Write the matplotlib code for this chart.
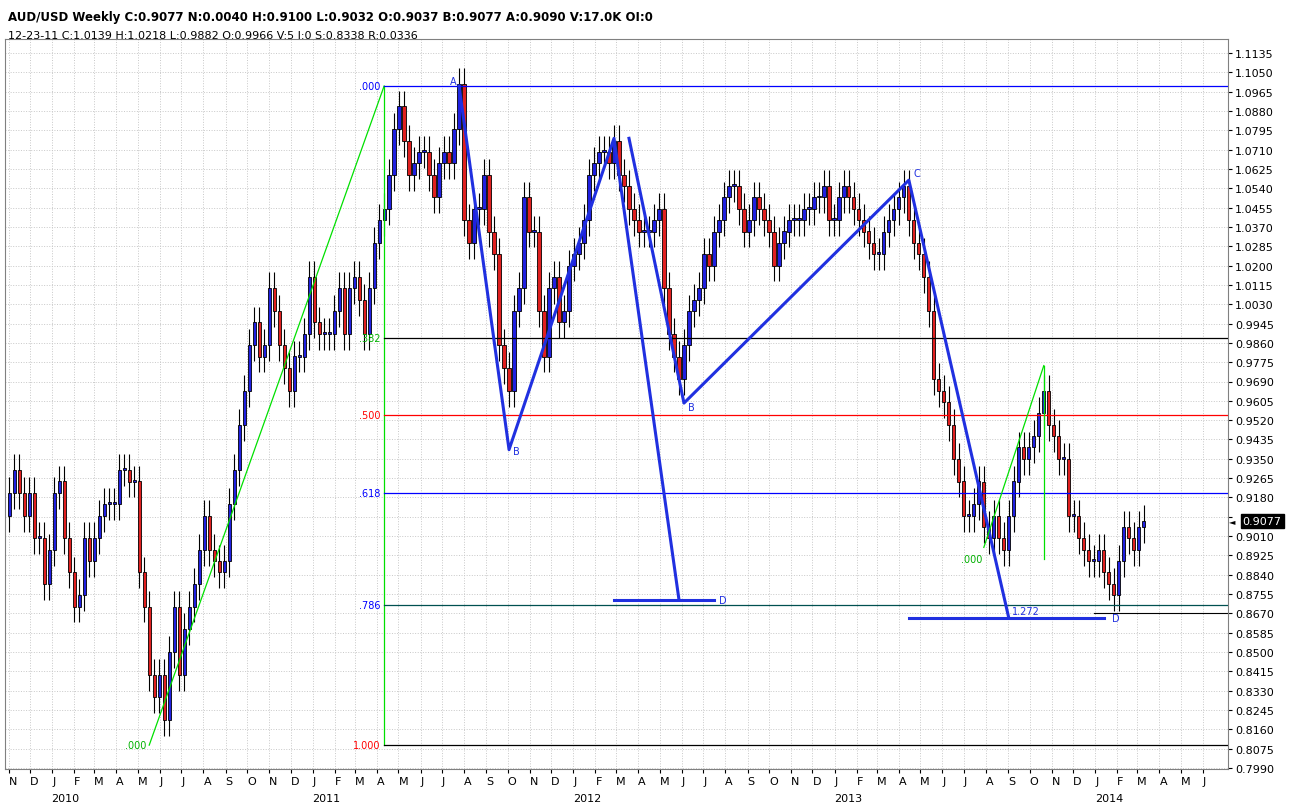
import matplotlib
matplotlib.use("Agg")
import matplotlib.pyplot as plt
import matplotlib.dates as mdates
import pandas as pd
import numpy as np

# weekly closes Nov 2009 .. Mar 2014
closes = [
 0.92,0.93,0.92,0.91,0.92, 0.90,0.90,0.88,0.895,
 0.92,0.925,0.90,0.885, 0.87,0.875,0.90,0.89, 0.90,0.91,0.915,0.915,0.915, 0.93,0.93,0.925,0.925,
 0.885,0.87,0.84,0.83,0.84, 0.82,0.85,0.87,0.84, 0.86,0.87,0.88,0.895, 0.91,0.895,0.89,0.885,0.89,
 0.915,0.93,0.95,0.965, 0.985,0.995,0.98,0.985, 1.01,1.00,0.985,0.975,0.965, 0.98,0.98,0.99,1.015,
 0.995,0.99,0.99,0.99,1.00, 1.01,0.99,1.01,1.015, 1.005,0.99,1.01,1.03, 1.04,1.045,1.06,1.08,
 1.09,1.075,1.06,1.065,1.07, 1.07,1.06,1.05,1.065, 1.07,1.065,1.08,1.10, 1.04,1.03,1.045,1.045,1.06,
 1.035,1.025,0.985,0.975, 0.965,1.00,1.01,1.05,1.035, 1.035,1.00,0.98,1.01, 1.015,0.995,1.00,1.02,
 1.025,1.03,1.04,1.06,1.065, 1.07,1.07,1.065,1.075, 1.06,1.055,1.045,1.04, 1.035,1.035,1.035,1.04,1.045,
 1.01,0.99,0.98,0.97, 0.985,1.00,1.005,1.01, 1.025,1.02,1.035,1.04,1.05, 1.055,1.055,1.045,1.035,
 1.04,1.05,1.045,1.04, 1.035,1.02,1.03,1.035,1.04, 1.04,1.04,1.045,1.045, 1.05,1.05,1.055,1.04,1.04,
 1.05,1.055,1.05,1.045, 1.04,1.035,1.03,1.025, 1.025,1.035,1.04,1.045, 1.05,1.055,1.04,1.03,1.025,
 1.015,1.00,0.97,0.965, 0.96,0.95,0.935,0.925, 0.91,0.91,0.915,0.925,0.905, 0.90,0.91,0.90,0.895,
 0.91,0.925,0.94,0.935,0.94, 0.945,0.955,0.965,0.95, 0.945,0.935,0.935,0.91, 0.91,0.90,0.895,0.89,0.89,
 0.895,0.885,0.88,0.875, 0.89,0.905,0.90,0.895, 0.905,0.9077]
first_open = 0.91
wick = 0.007

dates = pd.date_range("2009-11-02", periods=len(closes), freq="7D")
opens = [first_open] + closes[:-1]

fib_levels = [1.0990, 0.9881, 0.9542, 0.9199, 0.8706, 0.8090]
fib_labels = [".000", ".382", ".500", ".618", ".786", "1.000"]
fib_label_colors = ["blue", "#00b000", "red", "blue", "blue", "red"]
fib_line_colors = ["blue", "black", "red", "blue", "#005050", "black"]

pat1 = [("2011-07-25", 1.0990), ("2011-10-03", 0.9390), ("2012-02-27", 1.0760), ("2012-05-28", 0.8730)]
pat2 = [("2012-03-19", 1.0760), ("2012-06-04", 0.9595), ("2013-04-15", 1.0576), ("2013-09-02", 0.8649)]

fig = plt.figure(figsize=(12.92, 8.12), dpi=100)
ax = fig.add_axes([5/1292, 42/812, 1223/1292, 730/812])
ax.set_facecolor("white")

d = mdates.date2num(dates)
for x, o, c in zip(d, opens, closes):
    col = "#2020e0" if c >= o else "#e02020"
    lo, hi = min(o, c), max(o, c)
    ax.vlines(x, lo - wick, hi + wick, color="black", lw=0.8, zorder=2)
    ax.bar(x, max(hi - lo, 0.0008), bottom=lo, width=4.5, color=col, edgecolor="black", lw=0.6, zorder=3)

xmin = mdates.date2num(pd.Timestamp("2009-10-27"))
xmax = mdates.date2num(pd.Timestamp("2014-07-06"))
ax.set_xlim(xmin, xmax)
ax.set_ylim(0.7985, 1.1197)

# fib
fx = mdates.date2num(pd.Timestamp("2011-04-11"))
lowx = mdates.date2num(pd.Timestamp("2010-05-17"))
ax.plot([lowx, fx], [0.8090, 1.0990], color="#00e000", lw=0.9, zorder=4)
ax.plot([fx, fx], [0.8090, 1.0990], color="#00e000", lw=0.9, zorder=4)
for lv, lb, lc, lnc in zip(fib_levels, fib_labels, fib_label_colors, fib_line_colors):
    ax.plot([fx, xmax], [lv, lv], color=lnc, lw=0.9, zorder=4)
    ax.text(fx - 5, lv, lb, color=lc, fontsize=7, ha="right", va="center")
ax.text(lowx - 4, 0.8090, ".000", color="#00b000", fontsize=7, ha="right", va="center")
ax.plot([mdates.date2num(pd.Timestamp("2013-12-30")), xmax], [0.867, 0.867], color="black", lw=0.8)

def draw_pat(p, dline_end):
    xs = [mdates.date2num(pd.Timestamp(a)) for a, _ in p]
    ys = [b for _, b in p]
    ax.plot(xs, ys, color="#2030e0", lw=2.2, zorder=5)
    ax.plot([xs[2], mdates.date2num(pd.Timestamp(dline_end))], [ys[3], ys[3]], color="#2030e0", lw=2.2, zorder=5)
    return xs, ys

xs, ys = draw_pat(pat1, "2012-07-16")
ax.text(xs[0] - 8, ys[0] + 0.001, "A", fontsize=7, color="#2030e0", ha="center")
ax.text(xs[1] + 6, ys[1] - 0.002, "B", fontsize=7, color="#2030e0")
ax.text(mdates.date2num(pd.Timestamp("2012-07-23")), ys[3], "D", fontsize=7, color="#2030e0", va="center")
xs, ys = draw_pat(pat2, "2014-01-13")
ax.text(xs[1] + 6, ys[1] - 0.003, "B", fontsize=7, color="#2030e0")
ax.text(xs[2] + 6, ys[2] + 0.002, "C", fontsize=7, color="#2030e0")
ax.text(xs[3] + 4, ys[3] + 0.002, "1.272", fontsize=7, color="#2030e0")
ax.text(mdates.date2num(pd.Timestamp("2014-01-24")), ys[3], "D", fontsize=7, color="#2030e0", va="center")

g1 = mdates.date2num(pd.Timestamp("2013-07-29")); g2 = mdates.date2num(pd.Timestamp("2013-10-21"))
ax.plot([g1, g2], [0.896, 0.976], color="#00e000", lw=0.9, zorder=6)
ax.plot([g2, g2], [0.976, 0.891], color="#00e000", lw=0.9, zorder=6)
ax.text(g1 - 2, 0.891, ".000", color="#00b000", fontsize=7, ha="right", va="center")

# y axis
yt = np.round(1.1135 - 0.0085 * np.arange(38), 4)
ax.yaxis.tick_right()
ax.set_yticks(yt)
ax.set_yticklabels(["" if abs(v - 0.9095) < 1e-6 else f"{v:.4f}" for v in yt], fontsize=8)
ax.tick_params(axis="y", length=3, pad=2)
months = pd.date_range("2009-11-01", "2014-06-01", freq="MS")
mx = mdates.date2num(months)
ax.set_xticks(mx)
ax.set_xticklabels([m.strftime("%b")[0] for m in months], fontsize=8, ha="left")
ax.tick_params(axis="x", length=3, pad=2)
ax.grid(True, color="#c8c8c8", ls=":", lw=0.7)
for y in [2010, 2011, 2012, 2013, 2014]:
    ax.text(mdates.date2num(pd.Timestamp(f"{y}-01-20")), -0.033, str(y), transform=ax.get_xaxis_transform(),
            fontsize=8, ha="center", va="top")
for s in ax.spines.values():
    s.set_color("#808080")

ax.text(1.012, 0.9077, "0.9077", transform=ax.get_yaxis_transform(), fontsize=8, color="white",
        va="center", bbox=dict(facecolor="black", edgecolor="black", pad=1.5))
ax.text(1.001, 0.9077, "◄", transform=ax.get_yaxis_transform(), fontsize=6, color="black", va="center")

fig.text(8/1292, 1 - 18/812, "AUD/USD Weekly C:0.9077 N:0.0040 H:0.9100 L:0.9032 O:0.9037 B:0.9077 A:0.9090 V:17.0K OI:0",
         fontsize=8.5, weight="bold", va="center")
fig.text(8/1292, 1 - 36/812, "12-23-11 C:1.0139 H:1.0218 L:0.9882 O:0.9966 V:5 I:0 S:0.8338 R:0.0336",
         fontsize=8, va="center")
fig.savefig("out.png", dpi=100)
